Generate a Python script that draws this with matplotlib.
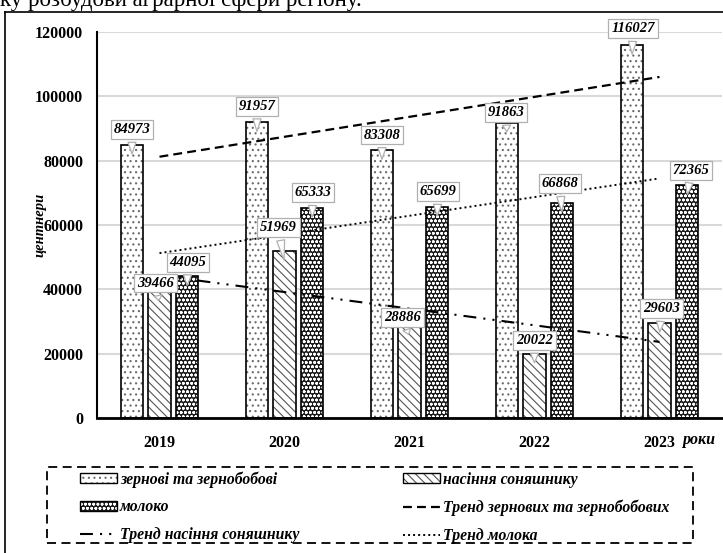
import numpy as np
import matplotlib
matplotlib.use('Agg')
import matplotlib.pyplot as plt
import matplotlib.transforms as mtransforms
from matplotlib.patches import Patch, Rectangle
from matplotlib.lines import Line2D

# дані
years = ['2019', '2020', '2021', '2022', '2023']
grain = [84973, 91957, 83308, 91863, 116027]
sunflower = [39466, 51969, 28886, 20022, 29603]
milk = [44095, 65333, 65699, 66868, 72365]

series_names = ['зернові та зернобобові', 'насіння соняшнику', 'молоко']
trend_names = ['Тренд зернових та зернобобових', 'Тренд насіння соняшнику', 'Тренд молока']
y_ticks = [0, 20000, 40000, 60000, 80000, 100000, 120000]
y_label = 'центнери'
x_label = 'роки'
top_text = 'ку розбудови аграрної сфери регіону.'

plt.rcParams['font.family'] = ['Liberation Serif', 'DejaVu Serif']
plt.rcParams['hatch.linewidth'] = 0.8

W, H = 723, 553
fig = plt.figure(figsize=(W / 100, H / 100), dpi=100)
ax = fig.add_axes([97 / W, 1 - 418 / H, (722 - 97) / W, (418 - 32) / H])

x = np.arange(len(years))
w = 0.18
# стиль: (значення, зсув, заливка, штрихування, колір штриху)
styles = [
    (grain, -0.22, 'white', '...', '#6a6a6a'),
    (sunflower, 0.0, 'white', '\\\\\\\\', '#555555'),
    (milk, 0.22, '#1a1a1a', 'oooo', 'white'),
]
for vals, off, face, hatch, hcol in styles:
    ax.bar(x + off, vals, w, color=face, edgecolor=hcol, hatch=hatch, lw=0, zorder=2)
    ax.bar(x + off, vals, w, fill=False, edgecolor='black', lw=1.2, zorder=3)

# лінії тренду
trend_styles = [
    (grain, (0, (4, 2.3)), 1.6),
    (sunflower, (0, (6.2, 3.4, 1, 3.4, 1, 3.4)), 1.5),
    (milk, (0, (1, 1.6)), 1.4),
]
for vals, ls, lw in trend_styles:
    coef = np.polyfit(x, vals, 1)
    ax.plot(x, np.polyval(coef, x), color='black', ls=ls, lw=lw, zorder=4)

# підписи значень (зсуви у пікселях)
label_dx = [[0, 0, 0, -1, 1], [-4, -6, -7, 0, 2], [1, 1, 1, -2, 4]]
label_dy = [[15, 16, 15, 10, 16], [8, 23, 8, 13, 14], [14, 15, 15, 19, 15]]
tip = mtransforms.offset_copy(ax.transData, fig=fig, y=-12, units='dots')
for k, (vals, off, *_) in enumerate(styles):
    for i, v in enumerate(vals):
        ax.annotate(str(v), xy=(x[i] + off, v), xycoords=tip,
                    xytext=(label_dx[k][i], label_dy[k][i] + 12), textcoords='offset pixels',
                    ha='center', va='center', fontsize=10.5, fontweight='bold', fontstyle='italic',
                    bbox=dict(boxstyle='square,pad=0.2', fc='white', ec='#b0b0b0', lw=0.9),
                    arrowprops=dict(arrowstyle='wedge,tail_width=0.55,shrink_factor=0.5',
                                    fc='white', ec='#b0b0b0', lw=0.9),
                    zorder=6)

ax.set_xlim(-0.5, 4.5)
ax.set_ylim(0, 120000)
ax.set_xticks(x)
ax.set_xticklabels(years, fontsize=11.5, fontweight='bold')
ax.set_yticks(y_ticks)
ax.set_yticklabels([str(t) for t in y_ticks], fontsize=11.5, fontweight='bold')
ax.tick_params(axis='x', length=0, pad=12)
ax.tick_params(axis='y', length=0, pad=10)
ax.grid(axis='y', color='#d9d9d9', lw=1.5, zorder=0)
ax.set_axisbelow(True)
for s in ['top', 'right']:
    ax.spines[s].set_visible(False)
ax.spines['left'].set_linewidth(1.5)
ax.spines['bottom'].set_linewidth(2)

fig.text(40 / W, 1 - 225 / H, y_label, rotation=90, ha='center', va='center',
         fontsize=10.5, fontweight='bold', fontstyle='italic')
fig.text(682 / W, 1 - 440 / H, x_label, ha='left', va='center',
         fontsize=11.5, fontweight='bold', fontstyle='italic')

# легенда
h_grain = (Patch(fc='white', ec='#6a6a6a', hatch='...', lw=0), Patch(fill=False, ec='black', lw=1))
h_sun = (Patch(fc='white', ec='#555555', hatch='\\\\\\\\', lw=0), Patch(fill=False, ec='black', lw=1))
h_milk = (Patch(fc='#1a1a1a', ec='white', hatch='oooo', lw=0), Patch(fill=False, ec='black', lw=1))
h_tg = Line2D([], [], color='black', ls=trend_styles[0][1], lw=1.6)
h_ts = Line2D([], [], color='black', ls=trend_styles[1][1], lw=1.5)
h_tm = Line2D([], [], color='black', ls=trend_styles[2][1], lw=1.4)
handles = [h_grain, h_milk, h_ts, h_sun, h_tg, h_tm]
labels = [series_names[0], series_names[2], trend_names[1],
          series_names[1], trend_names[0], trend_names[2]]
leg = fig.legend(handles, labels, ncol=2, loc='upper left',
                 bbox_to_anchor=(80 / W, 1 - 471 / H),
                 borderaxespad=0, borderpad=0, labelspacing=0.76,
                 handlelength=2.35, handleheight=0.6, handletextpad=0.2,
                 columnspacing=6.6, frameon=False,
                 prop=dict(family='Liberation Serif', weight='bold', style='italic', size=11.3))
fig.add_artist(Rectangle((47 / W, 1 - 543 / H), 646 / W, 76 / H, transform=fig.transFigure,
                         fill=False, ec='black', lw=1.3, ls=(0, (5, 3))))

# рамка і текст документа зверху
fig.add_artist(Line2D([5 / W, 1], [1 - 12 / H, 1 - 12 / H], transform=fig.transFigure, color='black', lw=1.2))
fig.add_artist(Line2D([5 / W, 5 / W], [0, 1 - 12 / H], transform=fig.transFigure, color='black', lw=1.2))
fig.text(0, 1 - 6 / H, top_text, ha='left', va='baseline', fontsize=16.5)

fig.savefig('out.png', dpi=100)
